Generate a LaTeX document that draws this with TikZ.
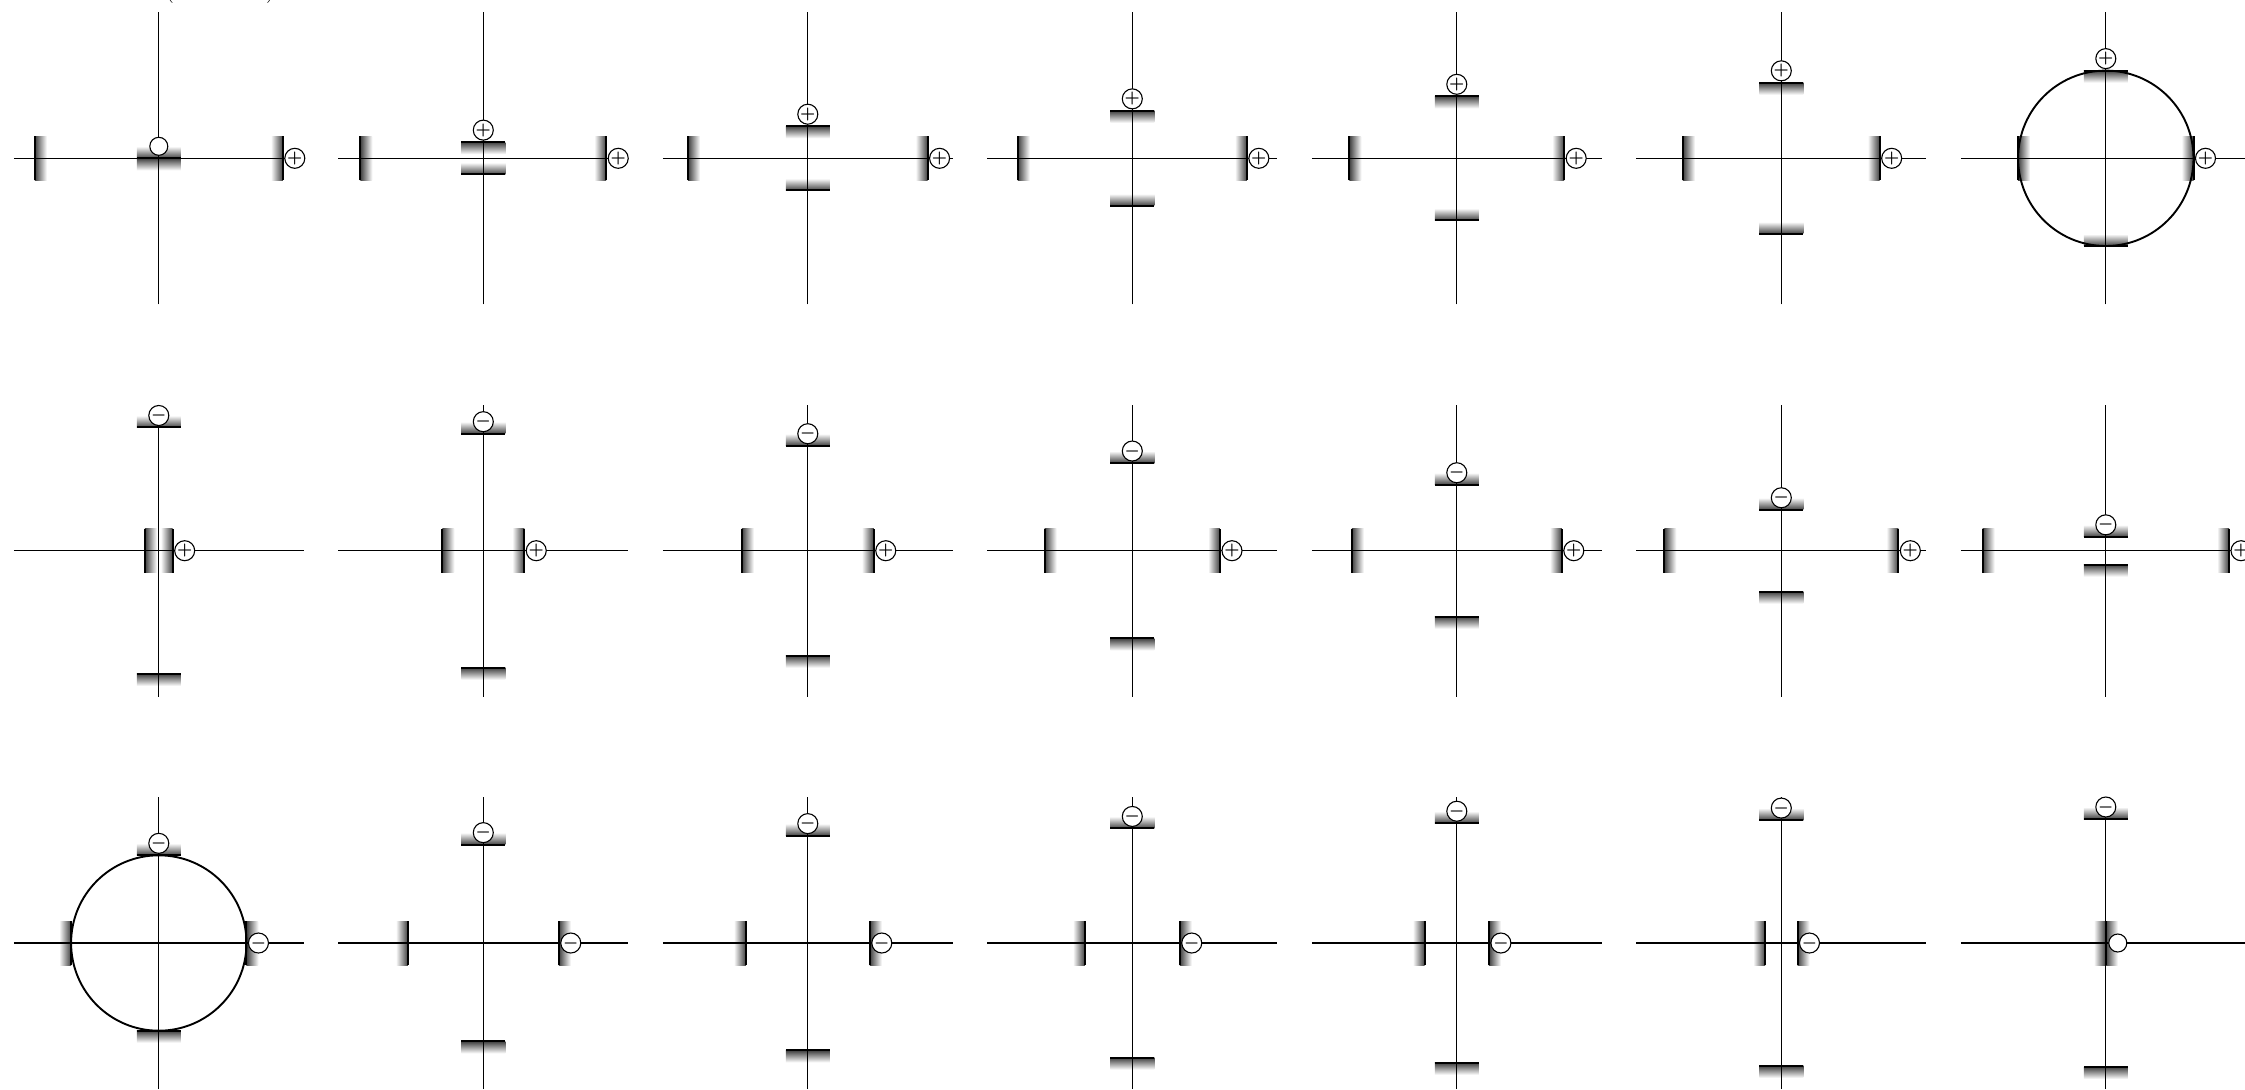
\documentclass[tikz,border=0pt]{standalone}
\usepackage{tikz}
% one panel: #1,#2 centre, #3 half gap of the side plates, #4 half gap of the
% top/bottom plates, #5/#6 fade of side/top plates (1 inward, -1 outward),
% #7 top charge, #8 right charge, #9 name
\newcommand\panel[9]{%
    \pgfmathsetmacro\angL{90*#5}%
    \pgfmathsetmacro\angR{-90*#5}%
    \pgfmathsetmacro\angT{90-90*#6}%
    \pgfmathsetmacro\angB{90+90*#6}%
    \shade[plate fade, shading angle=\angL] (#1-#3,#2-22) rectangle ++(12*#5,44);
    \shade[plate fade, shading angle=\angR] (#1+#3,#2-22) rectangle ++(-12*#5,44);
    \shade[plate fade, shading angle=\angT] (#1-22,#2+#4) rectangle ++(44,-12*#6);
    \shade[plate fade, shading angle=\angB] (#1-22,#2-#4) rectangle ++(44,12*#6);
    \draw[axis line] (#1-145,#2) -- (#1+145,#2);
    \draw[axis line] (#1,#2-146) -- (#1,#2+146);
    \draw[plate line] (#1-#3,#2-22) -- ++(0,44);
    \draw[plate line] (#1+#3,#2-22) -- ++(0,44);
    \draw[plate line] (#1-22,#2+#4) -- ++(44,0);
    \draw[plate line] (#1-22,#2-#4) -- ++(44,0);
    \node[charge] (#9 top) at (#1,#2+#4+12) {#7};
    \node[charge] (#9 right) at (#1+#3+12,#2) {#8};
}

\begin{document}
\begin{tikzpicture}[x=0.5pt,y=0.5pt,
    axis line/.style={line width=0.55pt},
    plate line/.style={line width=1pt},
    plate fade/.style={top color=black!75, bottom color=white},
    ring/.style={line width=0.95pt},
    charge/.style={circle, draw, fill=white, line width=0.55pt, inner sep=0pt, minimum size=9pt, font=\footnotesize\boldmath}]
\useasboundingbox (0,0) rectangle (2245,-1089);
\def\R{124}

\node[anchor=base] (brackets) at (220,2) {(\hspace{46pt})};

\foreach \k in {0,...,6}{
    \pgfmathsetmacro\cx{158.8+324.5*\k}
    % first row
    \pgfmathsetmacro\h{\R*cos(7.5*\k)}
    \pgfmathsetmacro\v{\R*sin(7.5*\k)}
    \ifnum\k=0 \def\toplab{}\else\def\toplab{$+$}\fi
    \panel{\cx}{-158.3}{\h}{\v}{1}{1}{\toplab}{$+$}{a\k}
    % second row
    \pgfmathsetmacro\h{\R*sin((2*\k+1)*90/14)}
    \pgfmathsetmacro\v{\R*cos((2*\k+1)*90/14)}
    \panel{\cx}{-550.7}{\h}{\v}{1}{-1}{$-$}{$+$}{b\k}
    % third row
    \pgfmathsetmacro\h{\R*cos(45+7.5*\k)}
    \pgfmathsetmacro\v{\R*sin(45+7.5*\k)}
    \ifnum\k=6 \def\rightlab{}\else\def\rightlab{$-$}\fi
    \panel{\cx}{-943}{\h}{\v}{-1}{-1}{$-$}{\rightlab}{c\k}
}
\draw[ring] (2105.8,-158.3) circle[radius=87.7];
\draw[ring] (158.8,-943) circle[radius=87.7];
\end{tikzpicture}
\end{document}
